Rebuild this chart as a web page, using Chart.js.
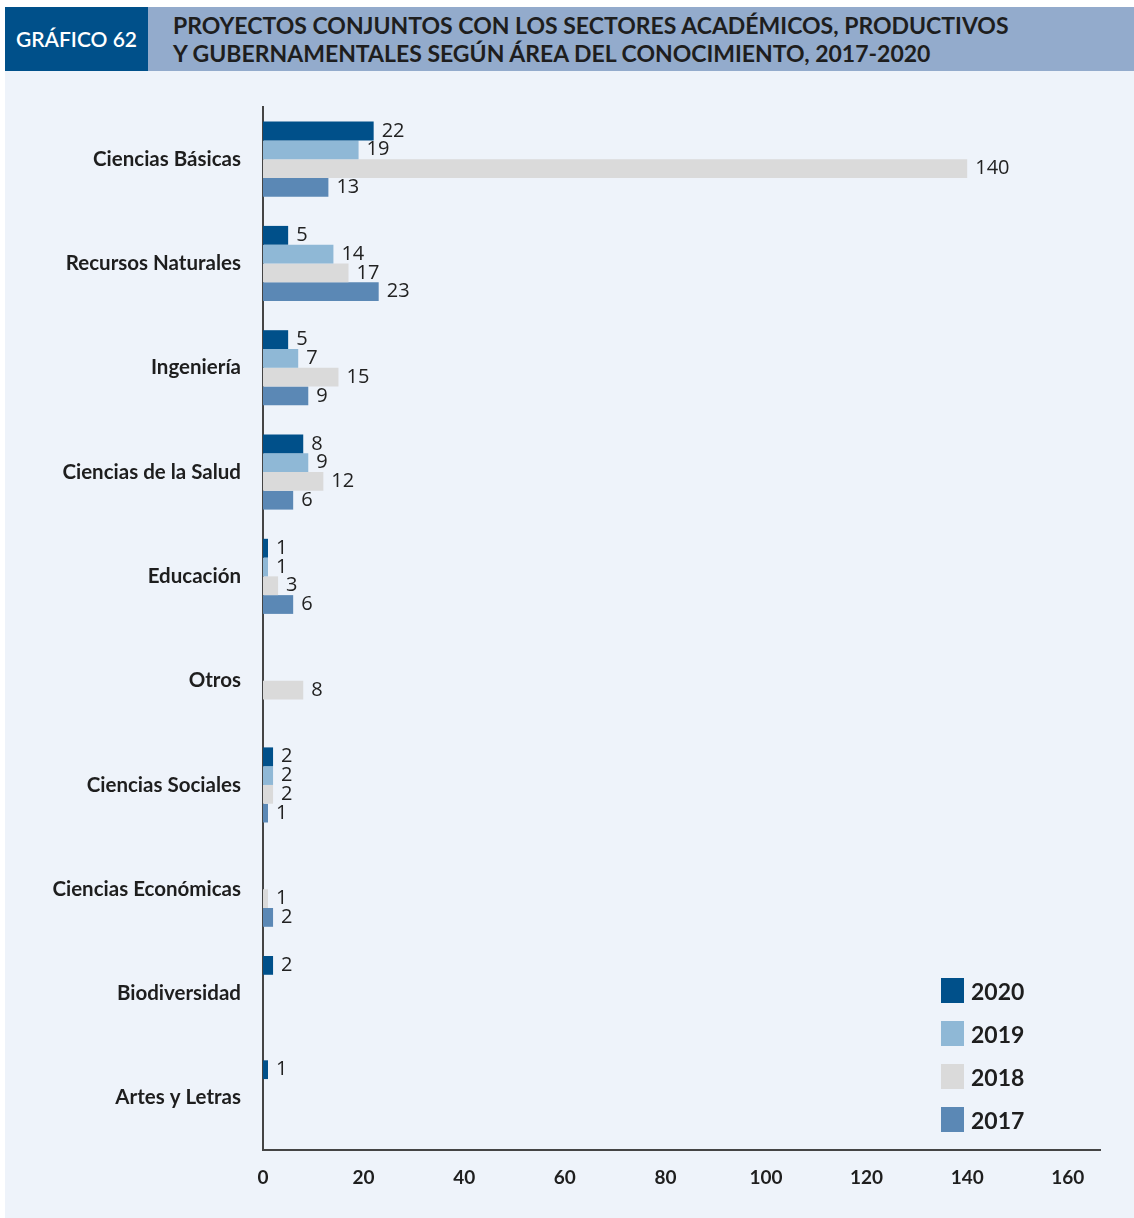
<!DOCTYPE html>
<html>
<head>
<meta charset="utf-8">
<script src="https://cdn.jsdelivr.net/npm/chart.js@4/dist/chart.umd.min.js"></script>
<style>
  body { margin: 0; background: #fff; }
  #wrap { position: relative; width: 1134px; height: 1218px; overflow: hidden; }
  #panel { position: absolute; left: 5px; top: 71px; width: 1129px; height: 1147px; background: #eef3fa; }
  #tag { position: absolute; left: 5px; top: 7px; width: 143px; height: 64px; background: #00508a; color: #fff;
         font: 600 21px Lato, sans-serif; line-height: 64px; text-align: center; }
  #band { position: absolute; left: 148px; top: 7px; width: 986px; height: 64px; background: #93abcc; }
  #title { position: absolute; left: 173px; top: 11px; color: #1e1e1e; font: 700 23px Lato, sans-serif; line-height: 28px; }
  #graph { position: absolute; left: 0; top: 0; }
  #legend { position: absolute; left: 941px; top: 978px; font: 700 23px Lato, sans-serif; color: #1e1e1e; }
  #legend div { height: 43px; display: flex; align-items: flex-start; }
  #legend span.sw { display: inline-block; width: 23px; height: 25px; margin-right: 7px; }
  #legend span.tx { line-height: 27px; }
</style>
</head>
<body>
<div id="wrap">
  <div id="panel"></div>
  <div id="tag">GRÁFICO 62</div>
  <div id="band"></div>
  <div id="title">PROYECTOS CONJUNTOS CON LOS SECTORES ACADÉMICOS, PRODUCTIVOS<br>Y GUBERNAMENTALES SEGÚN ÁREA DEL CONOCIMIENTO, 2017-2020</div>
  <canvas id="graph" width="1134" height="1218"></canvas>
  <div id="legend"></div>
</div>
<script>
var areas = ["Ciencias Básicas", "Recursos Naturales", "Ingeniería", "Ciencias de la Salud", "Educación",
             "Otros", "Ciencias Sociales", "Ciencias Económicas", "Biodiversidad", "Artes y Letras"];
var years = ["2020", "2019", "2018", "2017"];
var v2020 = [22, 5, 5, 8, 1, 0, 2, 0, 2, 1];
var v2019 = [19, 14, 7, 9, 1, 0, 2, 0, 0, 0];
var v2018 = [140, 17, 15, 12, 3, 8, 2, 1, 0, 0];
var v2017 = [13, 23, 9, 6, 6, 0, 1, 2, 0, 0];
var xTicks = [0, 20, 40, 60, 80, 100, 120, 140, 160];
var colors = ["#00508a", "#8fb8d6", "#dadada", "#5b88b5"];

var series = [v2020, v2019, v2018, v2017];
var datasets = [];
for (var i = 0; i < years.length; i++) {
    datasets.push({
        label: years[i],
        data: series[i],
        backgroundColor: colors[i],
        borderWidth: 0,
        barPercentage: 1,
        categoryPercentage: 0.72
    });
}

// legend built from the same arrays
var lg = document.getElementById('legend');
for (var i = 0; i < years.length; i++) {
    var row = document.createElement('div');
    row.innerHTML = '<span class="sw" style="background:' + colors[i] + '"></span><span class="tx">' + years[i] + '</span>';
    lg.appendChild(row);
}

// value labels at bar ends
var barLabels = {
    id: 'barLabels',
    afterDatasetsDraw: function(chart) {
        var ctx = chart.ctx;
        ctx.save();
        ctx.font = '20px "Open Sans", sans-serif';
        ctx.fillStyle = '#222';
        ctx.textBaseline = 'middle';
        chart.data.datasets.forEach(function(ds, di) {
            chart.getDatasetMeta(di).data.forEach(function(bar, j) {
                var v = ds.data[j];
                if (!v) return;
                ctx.fillText(v, bar.x + 8, bar.y);
            });
        });
        ctx.restore();
    }
};

var ctx = document.getElementById('graph').getContext('2d');
var myChart = new Chart(ctx, {
    type: 'bar',
    data: { labels: areas, datasets: datasets },
    options: {
        indexAxis: 'y',
        responsive: false,
        animation: false,
        layout: { padding: { top: 107, right: 34, left: 0, bottom: 0 } },
        plugins: { legend: { display: false }, tooltip: { enabled: false } },
        scales: {
            x: {
                min: 0,
                max: 166.4,
                grid: { display: false },
                border: { display: true, color: '#444', width: 2 },
                afterBuildTicks: function(axis) {
                    axis.ticks = xTicks.map(function(t) { return { value: t }; });
                },
                afterFit: function(axis) { axis.height = 68; },
                ticks: {
                    padding: 8,
                    color: '#1e1e1e',
                    font: { family: 'Lato', weight: 'bold', size: 19 }
                }
            },
            y: {
                grid: { display: false },
                border: { display: true, color: '#444', width: 2 },
                afterFit: function(axis) { axis.width = 263; },
                ticks: {
                    padding: 14,
                    color: '#1e1e1e',
                    font: { family: 'Lato', weight: 'bold', size: 20.5 }
                }
            }
        }
    },
    plugins: [barLabels]
});
</script>
</body>
</html>
